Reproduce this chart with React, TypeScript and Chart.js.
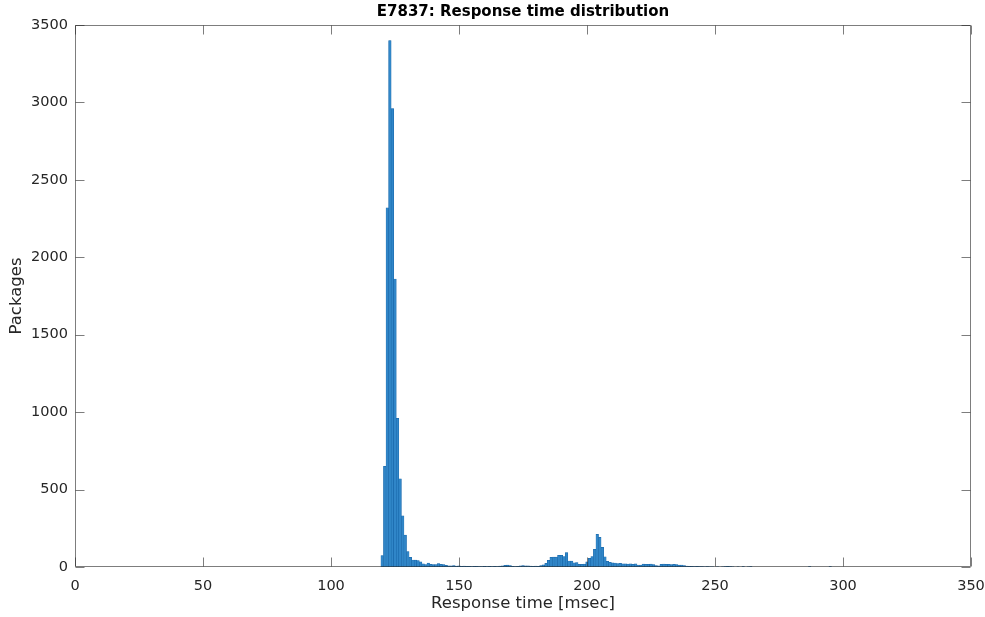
import React, { useEffect, useRef } from "react";
import { Chart, registerables } from "chart.js";

Chart.register(...registerables);

const TITLE = "E7837: Response time distribution";
const X_LABEL = "Response time [msec]";
const Y_LABEL = "Packages";

const xTicks = [0, 50, 100, 150, 200, 250, 300, 350];
const yTicks = [0, 500, 1000, 1500, 2000, 2500, 3000, 3500];

// histogram bin centres (msec)
const responseBins = [
  120, 121, 122, 123, 124, 125, 126, 127, 128, 129,
  130, 131, 132, 133, 134, 135, 136, 137, 138, 139,
  140, 141, 142, 143, 144, 145, 146, 147, 148, 149,
  150, 151, 152, 153, 154, 155, 156, 157, 158, 159,
  160, 161, 162, 163, 164, 165, 166, 167, 168, 169,
  170, 171, 172, 173, 174, 175, 176, 177, 178, 179,
  180, 181, 182, 183, 184, 185, 186, 187, 188, 189,
  190, 191, 192, 193, 194, 195, 196, 197, 198, 199,
  200, 201, 202, 203, 204, 205, 206, 207, 208, 209,
  210, 211, 212, 213, 214, 215, 216, 217, 218, 219,
  220, 221, 222, 223, 224, 225, 226, 227, 228, 229,
  230, 231, 232, 233, 234, 235, 236, 237, 238, 239,
  240, 241, 242, 243, 244, 245, 246, 247, 248, 249,
  250, 251, 252, 253, 254, 255, 256, 257, 258, 259,
  260, 261, 262, 263, 264, 287, 295,
];

// packages per bin
const packageCounts = [
  73, 650, 2320, 3400, 2960, 1860, 960, 570, 330, 206,
  99, 62, 45, 44, 42, 34, 20, 15, 25, 18,
  15, 15, 22, 17, 15, 10, 8, 8, 9, 6,
  7, 5, 6, 4, 5, 3, 5, 4, 3, 2,
  4, 3, 5, 3, 4, 3, 6, 8, 10, 12,
  9, 5, 3, 4, 8, 9, 7, 8, 6, 4,
  6, 5, 9, 14, 24, 43, 63, 64, 64, 76,
  75, 68, 93, 39, 38, 27, 28, 17, 18, 19,
  34, 56, 68, 114, 211, 192, 127, 66, 36, 30,
  27, 26, 22, 24, 20, 21, 19, 20, 18, 21,
  13, 12, 19, 18, 17, 19, 16, 9, 8, 17,
  19, 18, 17, 16, 18, 15, 12, 13, 9, 6,
  5, 4, 3, 4, 2, 2, 1, 2, 1, 1,
  0, 1, 0, 1, 3, 4, 3, 1, 0, 1,
  0, 3, 0, 1, 2, 2, 2,
];

const FONT = "'DejaVu Sans', sans-serif";
const TEXT = "#262626";

const frame = {
  id: "matlabFrame",
  afterDatasetsDraw(chart: any) {
    const { ctx, chartArea, scales } = chart;
    const { left, right, top, bottom } = chartArea;
    const x = scales.x;
    const y = scales.y;
    const tl = 9;
    ctx.save();
    ctx.strokeStyle = "rgba(38,38,38,0.6)";
    ctx.lineWidth = 1;
    const L = Math.round(left) + 0.5;
    const R = Math.round(right) - 0.5;
    const T = Math.round(top) + 0.5;
    const B = Math.round(bottom) - 0.5;
    ctx.beginPath();
    ctx.moveTo(L, T); ctx.lineTo(R, T);
    ctx.moveTo(R, T); ctx.lineTo(R, B);
    ctx.moveTo(L, B); ctx.lineTo(R, B);
    ctx.moveTo(L, T); ctx.lineTo(L, B);
    ctx.stroke();
    ctx.beginPath();
    xTicks.forEach((v) => {
      const px = Math.round(x.getPixelForValue(v)) + 0.5;
      ctx.moveTo(px, B); ctx.lineTo(px, B - tl);
      ctx.moveTo(px, T); ctx.lineTo(px, T + tl);
    });
    yTicks.forEach((v) => {
      const py = Math.round(y.getPixelForValue(v)) + 0.5;
      ctx.moveTo(L, py); ctx.lineTo(L + tl, py);
      ctx.moveTo(R, py); ctx.lineTo(R - tl, py);
    });
    ctx.stroke();
    ctx.fillStyle = "#000";
    ctx.font = "bold 15px " + FONT;
    ctx.textAlign = "center";
    ctx.textBaseline = "middle";
    ctx.fillText(TITLE, (left + right) / 2, 12);
    ctx.restore();
  },
};

export default function App() {
  const ref = useRef<HTMLCanvasElement | null>(null);
  useEffect(() => {
    if (!ref.current) return;
    const points = responseBins
      .map((b, i) => ({ x: b, y: packageCounts[i] }))
      .filter((p) => p.y > 0);
    const chart = new Chart(ref.current, {
      type: "bar",
      data: {
        datasets: [
          {
            data: points as any,
            backgroundColor: "rgb(48,134,200)",
            borderColor: "rgb(20,98,165)",
            borderWidth: 0.5,
            barPercentage: 1,
            categoryPercentage: 1,
          },
        ],
      },
      options: {
        responsive: false,
        animation: false,
        devicePixelRatio: 1,
        layout: { padding: { top: 25, right: 14, left: 0, bottom: 0 } },
        plugins: { legend: { display: false }, tooltip: { enabled: false }, title: { display: false } },
        scales: {
          x: {
            type: "linear",
            min: 0,
            max: 350,
            offset: false,
            grid: { display: false, drawTicks: false },
            border: { display: false },
            ticks: {
              stepSize: 50,
              autoSkip: false,
              maxRotation: 0,
              padding: 11,
              color: TEXT,
              font: { family: FONT, size: 14.5 },
              callback: (v: any) => String(v),
            },
            title: {
              display: true,
              text: X_LABEL,
              color: TEXT,
              font: { family: FONT, size: 16.5 },
              padding: { top: 0, bottom: 3 },
            },
            afterFit: (s: any) => {
              s.height = 50;
              s.paddingLeft = 0;
              s.paddingRight = 0;
            },
          },
          y: {
            type: "linear",
            min: 0,
            max: 3500,
            grid: { display: false, drawTicks: false },
            border: { display: false },
            ticks: {
              stepSize: 500,
              padding: 7,
              color: TEXT,
              font: { family: FONT, size: 14.5 },
              callback: (v: any) => String(v),
            },
            title: {
              display: true,
              text: Y_LABEL,
              color: TEXT,
              font: { family: FONT, size: 16.5 },
              padding: { top: 7, bottom: 0 },
            },
            afterFit: (s: any) => {
              s.width = 75;
              s.paddingTop = 0;
              s.paddingBottom = 0;
            },
          },
        },
      },
      plugins: [frame],
    });
    return () => chart.destroy();
  }, []);
  return (
    <div style={{ position: "fixed", left: 0, top: 0, width: 985, height: 617, background: "#fff" }}>
      <canvas ref={ref} width={985} height={617} />
    </div>
  );
}
